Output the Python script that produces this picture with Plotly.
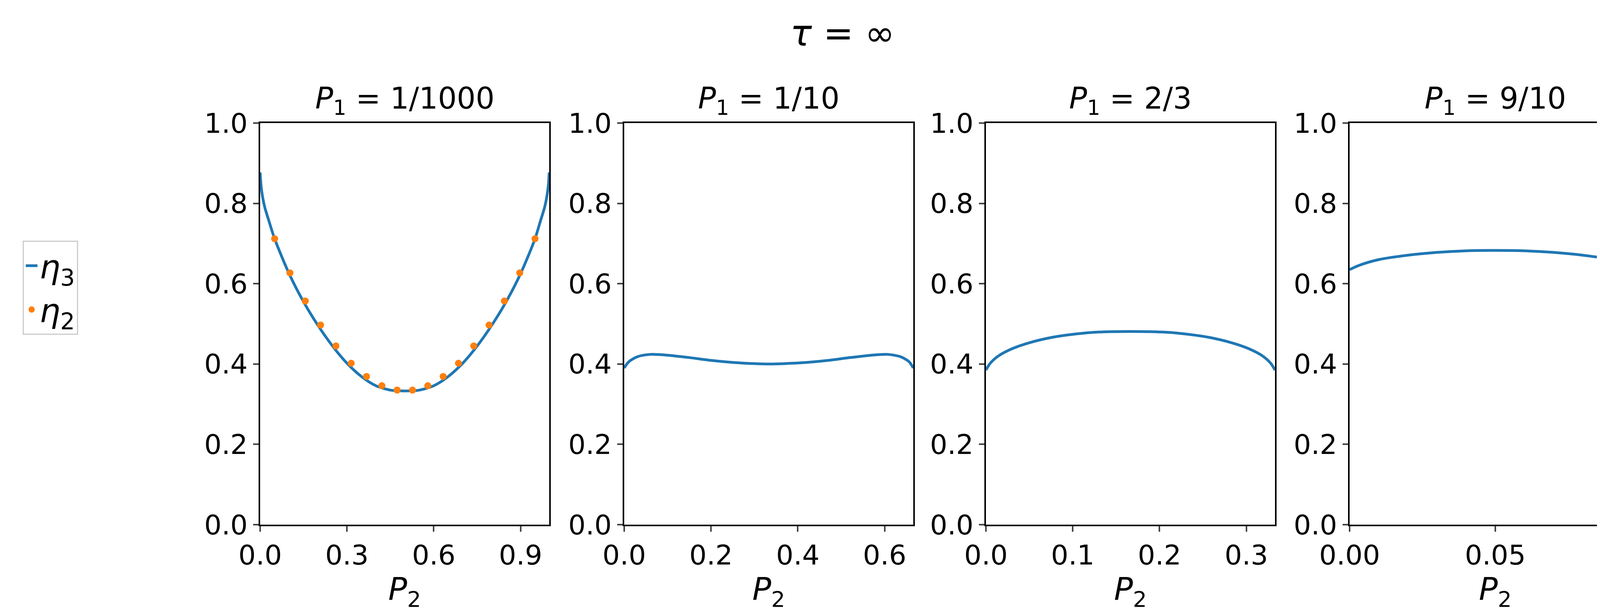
import plotly.graph_objects as go

# Panel 1 (P1 = 1/1000): eta3 curve and eta2 samples
p2_a = [0.0, 0.003, 0.008, 0.016, 0.03, 0.05, 0.1, 0.15, 0.2, 0.25, 0.3, 0.35, 0.4, 0.45, 0.4995,
        0.55, 0.6, 0.65, 0.7, 0.75, 0.8, 0.85, 0.9, 0.95, 0.969, 0.983, 0.991, 0.996, 0.999]
eta3_a = [0.877, 0.845, 0.818, 0.79, 0.757, 0.712, 0.625, 0.555, 0.496, 0.445, 0.402, 0.369, 0.346, 0.335, 0.333,
          0.335, 0.346, 0.369, 0.402, 0.445, 0.496, 0.555, 0.625, 0.712, 0.757, 0.79, 0.818, 0.845, 0.877]
p2_dots = [0.05, 0.1029, 0.1559, 0.2088, 0.2618, 0.3147, 0.3676, 0.4206, 0.4735, 0.5265,
           0.5794, 0.6324, 0.6853, 0.7382, 0.7912, 0.8441, 0.8971, 0.95]
eta2_dots = [0.712, 0.627, 0.557, 0.497, 0.445, 0.402, 0.369, 0.346, 0.335, 0.335,
             0.346, 0.369, 0.402, 0.445, 0.497, 0.557, 0.627, 0.712]

# Panel 2 (P1 = 1/10)
p2_b = [0.0, 0.01, 0.03, 0.06, 0.1, 0.15, 0.2, 0.25, 0.3, 0.333, 0.37, 0.42, 0.47, 0.52, 0.57, 0.607, 0.637, 0.657, 0.666]
eta3_b = [0.39, 0.405, 0.418, 0.424, 0.422, 0.416, 0.409, 0.404, 0.401, 0.400, 0.401, 0.404, 0.409, 0.416, 0.422, 0.424, 0.418, 0.405, 0.39]

# Panel 3 (P1 = 2/3)
p2_c = [0.0, 0.005, 0.015, 0.03, 0.05, 0.075, 0.1, 0.125, 0.1667, 0.208, 0.233, 0.258, 0.283, 0.303, 0.318, 0.328, 0.333]
eta3_c = [0.385, 0.402, 0.421, 0.438, 0.453, 0.466, 0.474, 0.479, 0.481, 0.479, 0.474, 0.466, 0.453, 0.438, 0.421, 0.402, 0.385]

# Panel 4 (P1 = 9/10)
p2_d = [0.0, 0.003, 0.01, 0.02, 0.03, 0.04, 0.05, 0.06, 0.07, 0.08, 0.09, 0.097, 0.1]
eta3_d = [0.635, 0.645, 0.660, 0.671, 0.678, 0.682, 0.683, 0.682, 0.678, 0.671, 0.660, 0.645, 0.635]

titles = ["<i>P</i><sub>1</sub> = 1/1000", "<i>P</i><sub>1</sub> = 1/10",
          "<i>P</i><sub>1</sub> = 2/3", "<i>P</i><sub>1</sub> = 9/10"]
xranges = [[0, 0.999], [0, 0.666], [0, 0.333], [0, 0.1]]
xticks = [[0, 0.3, 0.6, 0.9], [0, 0.2, 0.4, 0.6], [0, 0.1, 0.2, 0.3], [0, 0.05, 0.10]]
xticklabels = [["0.0", "0.3", "0.6", "0.9"], ["0.0", "0.2", "0.4", "0.6"],
               ["0.0", "0.1", "0.2", "0.3"], ["0.00", "0.05", "0.10"]]
yticks = [0, 0.2, 0.4, 0.6, 0.8, 1.0]
yticklabels = ["0.0", "0.2", "0.4", "0.6", "0.8", "1.0"]

W, H = 4297, 1564
px = [(658, 1398), (1590, 2330), (2516, 3256), (3447, 4193)]
py = (307, 1335)
blue, orange = "#1f77b4", "#ff7f0e"

fig = go.Figure()
curves = [(p2_a, eta3_a), (p2_b, eta3_b), (p2_c, eta3_c), (p2_d, eta3_d)]
for i, (xs, ys) in enumerate(curves):
    n = "" if i == 0 else str(i + 1)
    fig.add_trace(go.Scatter(x=xs, y=ys, mode="lines", line=dict(color=blue, width=7, shape="spline", smoothing=0.8),
                             name="<i>η</i><sub>3</sub>", showlegend=(i == 0), xaxis="x" + n, yaxis="y" + n))
    if i == 0:
        fig.add_trace(go.Scatter(x=p2_dots, y=eta2_dots, mode="markers", marker=dict(color=orange, size=18),
                                 name="<i>η</i><sub>2</sub>", xaxis="x", yaxis="y"))

layout = dict(width=W, height=H, plot_bgcolor="white", paper_bgcolor="white",
              margin=dict(l=0, r=0, t=0, b=0, autoexpand=False),
              font=dict(family="DejaVu Sans", color="black", size=70),
              showlegend=True,
              legend=dict(x=50 / W, y=1 - 608 / H, xanchor="left", yanchor="top",
                          bordercolor="#cccccc", borderwidth=3, font=dict(size=84),
                          tracegroupgap=20))
annotations = [dict(text="<i>τ</i> = ∞", x=0.5, y=1 - 77 / H, xref="paper", yref="paper",
                    showarrow=False, font=dict(size=92), xanchor="center", yanchor="middle")]
for i in range(4):
    n = "" if i == 0 else str(i + 1)
    x0, x1 = px[i][0] / W, px[i][1] / W
    y0, y1 = 1 - py[1] / H, 1 - py[0] / H
    layout["xaxis" + n] = dict(domain=[x0, x1], range=xranges[i], tickvals=xticks[i], ticktext=xticklabels[i],
                               showgrid=False, zeroline=False, showline=True, mirror=True, linecolor="black",
                               linewidth=4, ticks="outside", ticklen=14, tickwidth=4, automargin=False,
                               anchor="y" + n, title=dict(text="<i>P</i><sub>2</sub>", font=dict(size=80), standoff=5))
    layout["yaxis" + n] = dict(domain=[y0, y1], range=[0, 1], tickvals=yticks, ticktext=yticklabels,
                               showgrid=False, zeroline=False, showline=True, mirror=True, linecolor="black",
                               linewidth=4, ticks="outside", ticklen=14, tickwidth=4, automargin=False,
                               anchor="x" + n)
    annotations.append(dict(text=titles[i], x=(x0 + x1) / 2, y=y1, xref="paper", yref="paper",
                            showarrow=False, font=dict(size=76), xanchor="center", yanchor="bottom", yshift=6))
layout["annotations"] = annotations
fig.update_layout(**layout)
fig.write_html("out.html")
